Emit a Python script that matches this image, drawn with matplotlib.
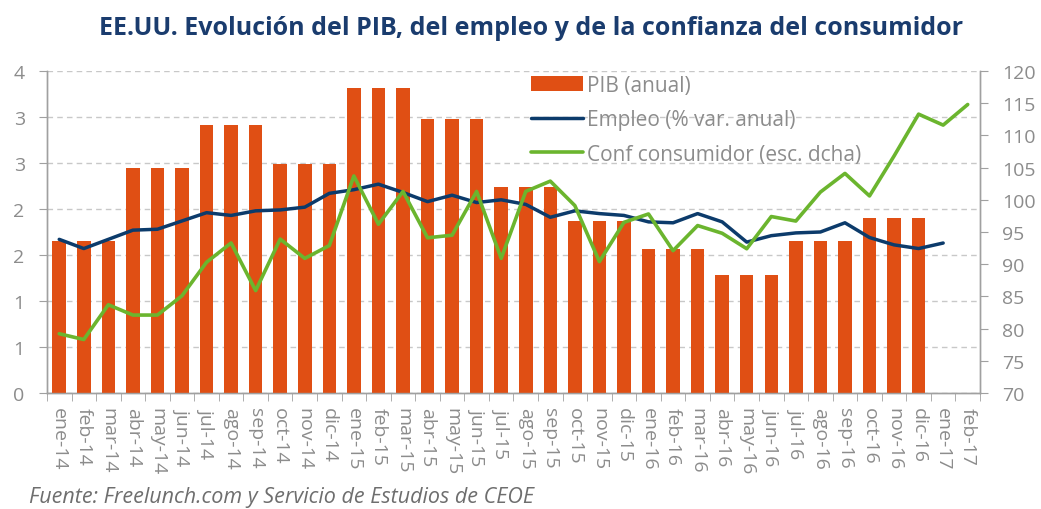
"""
EE.UU.: PIB (barras), empleo y confianza del consumidor (eje dcho).
"""
import math
import matplotlib
matplotlib.use("Agg")
import matplotlib.pyplot as plt
from matplotlib.ticker import FuncFormatter, MultipleLocator
import numpy as np

# ── Colores ─────────────────────────────────────────────
NARANJA = "#E04F14"
AZUL    = "#0C3B6B"
VERDE   = "#6BB52E"
GRIS    = "#8C8C8C"
REJILLA = "#C8C8C8"
TITULO  = "#1A3C6E"

FUENTE = ["Open Sans", "DejaVu Sans"]
plt.rcParams["font.family"] = FUENTE

# ── Datos ───────────────────────────────────────────────
meses = ["ene-14", "feb-14", "mar-14", "abr-14", "may-14", "jun-14",
         "jul-14", "ago-14", "sep-14", "oct-14", "nov-14", "dic-14",
         "ene-15", "feb-15", "mar-15", "abr-15", "may-15", "jun-15",
         "jul-15", "ago-15", "sep-15", "oct-15", "nov-15", "dic-15",
         "ene-16", "feb-16", "mar-16", "abr-16", "may-16", "jun-16",
         "jul-16", "ago-16", "sep-16", "oct-16", "nov-16", "dic-16",
         "ene-17", "feb-17"]

# PIB anual (%), dato trimestral repetido en cada mes
pib = [1.65, 1.65, 1.65, 2.45, 2.45, 2.45, 2.91, 2.91, 2.91, 2.49, 2.49, 2.49,
       3.32, 3.32, 3.32, 2.98, 2.98, 2.98, 2.24, 2.24, 2.24, 1.87, 1.87, 1.87,
       1.57, 1.57, 1.57, 1.28, 1.28, 1.28, 1.65, 1.65, 1.65, 1.90, 1.90, 1.90,
       np.nan, np.nan]

# Empleo (% var. anual)
empleo = [1.67, 1.57, 1.67, 1.77, 1.78, 1.87, 1.96, 1.93, 1.98, 1.99, 2.02, 2.17,
          2.21, 2.27, 2.18, 2.08, 2.15, 2.07, 2.10, 2.05, 1.91, 1.98, 1.95, 1.93,
          1.86, 1.85, 1.95, 1.86, 1.64, 1.71, 1.74, 1.75, 1.85, 1.69, 1.61, 1.57,
          1.63, np.nan]

# Confianza del consumidor (escala dcha)
confianza = [79.2, 78.3, 83.7, 82.1, 82.1, 85.1, 90.3, 93.3, 85.9, 93.9, 90.9, 92.9,
             103.7, 96.2, 101.3, 94.1, 94.5, 101.3, 90.9, 101.3, 102.9, 99.1, 90.4, 96.5,
             97.8, 92.1, 96.0, 94.8, 92.4, 97.4, 96.7, 101.2, 104.1, 100.6, 106.8, 113.3,
             111.6, 114.8]

titulo = "EE.UU. Evolución del PIB, del empleo y de la confianza del consumidor"
fuente = "Fuente: Freelunch.com y Servicio de Estudios de CEOE"


def _excel_round(v, pos):
    """Excel redondea 0,5 hacia arriba (sin decimales en el eje)."""
    return str(int(math.floor(v + 0.5 + 1e-9)))


fig = plt.figure(figsize=(10.41, 5.10), dpi=100, facecolor="white")
ax = fig.add_axes([0.0451, 0.2275, 0.8963, 0.6313])
ax2 = ax.twinx()

x = np.arange(len(meses))
b = ax.bar(x, pib, width=0.55, color=NARANJA, zorder=3, label="PIB (anual)")
l1, = ax.plot(x, empleo, color=AZUL, lw=2.5, zorder=4,
              solid_capstyle="round", label="Empleo (% var. anual)")
l2, = ax2.plot(x, confianza, color=VERDE, lw=2.6, zorder=4,
               solid_capstyle="round", label="Conf consumidor (esc. dcha)")

ax.set_xlim(-0.5, len(meses) - 0.5)
ax.set_ylim(0, 3.5)
ax.yaxis.set_major_locator(MultipleLocator(0.5))
ax.yaxis.set_major_formatter(FuncFormatter(_excel_round))
ax2.set_ylim(70, 120)
ax2.yaxis.set_major_locator(MultipleLocator(5))

ax.grid(axis="y", color=REJILLA, ls=(0, (4, 3)), lw=1.0, zorder=0)
ax.set_axisbelow(True)

# Ejes
for a in (ax, ax2):
    a.spines["top"].set_visible(False)
    for s in ("left", "right", "bottom"):
        a.spines[s].set_color("#A0A0A0")
        a.spines[s].set_linewidth(1.0)
ax.tick_params(axis="y", colors="#A0A0A0", labelcolor=GRIS, labelsize=14,
               length=6, direction="out", pad=10)
ax2.tick_params(axis="y", colors="#A0A0A0", labelcolor=GRIS, labelsize=14,
                length=6, direction="out", pad=10)

# Categorías: marcas entre meses, etiquetas verticales
ax.set_xticks(x)
ax.set_xticklabels(meses, rotation=-90, fontsize=14, color=GRIS)
ax.set_xticks(np.arange(len(meses) + 1) - 0.5, minor=True)
ax.tick_params(axis="x", which="major", length=0, pad=10)
ax.tick_params(axis="x", which="minor", length=6, color="#A0A0A0")

ax.legend([b, l1, l2], [b.get_label(), l1.get_label(), l2.get_label()],
          loc="upper left", bbox_to_anchor=(0.51, 1.015), frameon=False,
          fontsize=15, labelcolor=GRIS, handlelength=2.5,
          handletextpad=0.2, labelspacing=0.65, borderaxespad=0)

fig.text(0.51, 0.945, titulo, ha="center", va="center", fontsize=18,
         fontweight="bold", color=TITULO)
fig.text(0.028, 0.025, fuente, ha="left", va="center", fontsize=15.5,
         style="italic", color="#6E6E6E")

fig.savefig("out.png", dpi=100, facecolor="white")
